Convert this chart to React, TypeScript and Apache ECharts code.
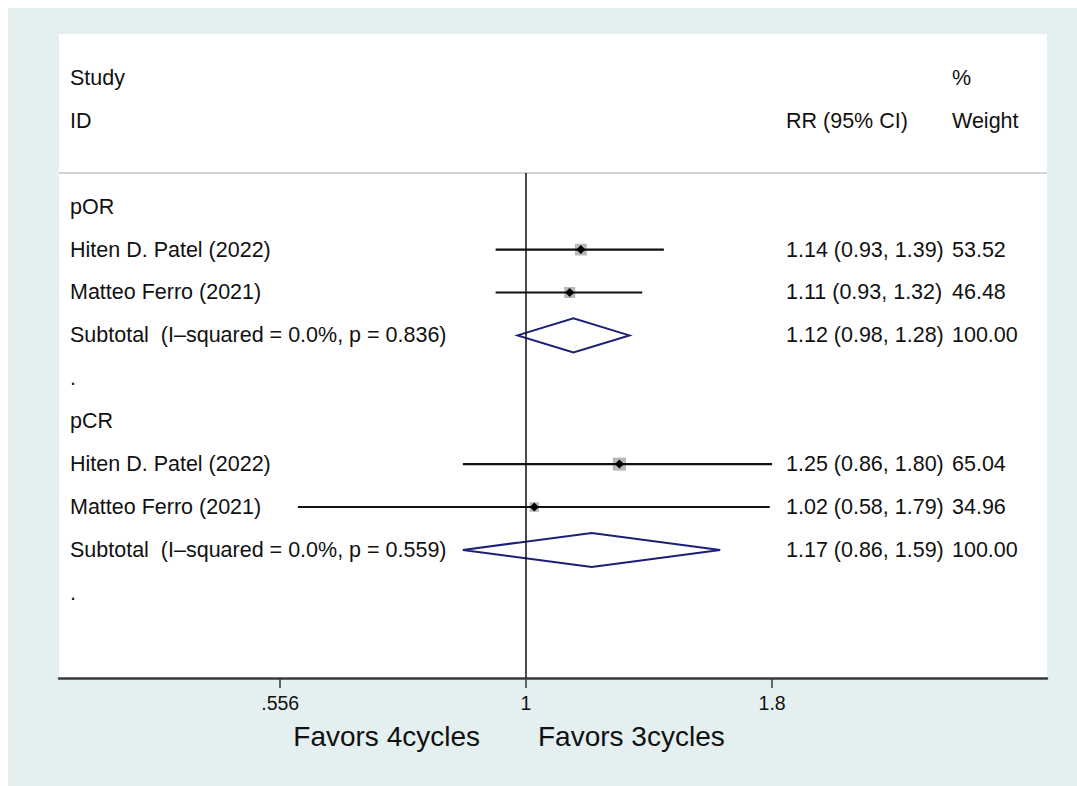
import React, { useEffect, useRef } from "react";
import * as echarts from "echarts";

// ---- data ----
const groups = ["pOR", "pCR"];
const studyNames = ["Hiten D. Patel (2022)", "Matteo Ferro (2021)", "Hiten D. Patel (2022)", "Matteo Ferro (2021)"];
const studyGroup = [0, 0, 1, 1];
const studyRR = [1.14, 1.11, 1.25, 1.02];
const studyLo = [0.93, 0.93, 0.86, 0.58];
const studyHi = [1.39, 1.32, 1.8, 1.79];
const studyWeight = [53.52, 46.48, 65.04, 34.96];
const subtotalLabels = ["Subtotal  (I\u2013squared = 0.0%, p = 0.836)", "Subtotal  (I\u2013squared = 0.0%, p = 0.559)"];
const subRR = [1.12, 1.17];
const subLo = [0.98, 0.86];
const subHi = [1.28, 1.59];
const subWeight = [100.0, 100.0];
const xTickValues = [0.556, 1, 1.8];
const xTickLabels = [".556", "1", "1.8"];
const headerLeft = ["Study", "ID"];
const headerRR = ["", "RR (95% CI)"];
const headerWeight = ["%", "Weight"];
const favorsLeft = "Favors 4cycles";
const favorsRight = "Favors 3cycles";

const FONT = "'Liberation Sans', Arial, Helvetica, sans-serif";
const BG = "#e4eff0";
const fmtCI = (r: number, l: number, h: number) => `${r.toFixed(2)} (${l.toFixed(2)}, ${h.toFixed(2)})`;

type Row = { row: number; label: string; rr: string; w: string };

function buildRows() {
  const text: Row[] = [];
  const studies: number[][] = [];
  const pooled: number[][] = [];
  text.push({ row: 0, label: headerLeft[0], rr: headerRR[0], w: headerWeight[0] });
  text.push({ row: 1, label: headerLeft[1], rr: headerRR[1], w: headerWeight[1] });
  let r = 3;
  groups.forEach((g, gi) => {
    text.push({ row: r, label: g, rr: "", w: "" });
    r++;
    studyNames.forEach((name, i) => {
      if (studyGroup[i] !== gi) return;
      text.push({ row: r, label: name, rr: fmtCI(studyRR[i], studyLo[i], studyHi[i]), w: studyWeight[i].toFixed(2) });
      studies.push([Math.log(studyRR[i]), r, Math.log(studyLo[i]), Math.log(studyHi[i]), studyWeight[i]]);
      r++;
    });
    text.push({ row: r, label: subtotalLabels[gi], rr: fmtCI(subRR[gi], subLo[gi], subHi[gi]), w: subWeight[gi].toFixed(2) });
    pooled.push([Math.log(subRR[gi]), r, Math.log(subLo[gi]), Math.log(subHi[gi])]);
    r++;
    text.push({ row: r, label: ".", rr: "", w: "" });
    r++;
  });
  return { text, studies, pooled };
}

export default function App() {
  const ref = useRef<HTMLDivElement>(null);
  useEffect(() => {
    document.documentElement.style.overflow = "hidden";
    document.body.style.overflow = "hidden";
    if (!ref.current) return;
    const chart = echarts.init(ref.current, undefined, { renderer: "svg" });
    const { text, studies, pooled } = buildRows();
    const xMin = -1.1153;
    const xMax = 1.2443;
    const yMin = -1.0256;
    const yMax = 13.986;
    const sepRow = 2.2145;
    const maxW = Math.max(...studyWeight);
    const tickLn = xTickValues.map((v) => Math.log(v));

    chart.setOption({
      animation: false,
      backgroundColor: BG,
      grid: { left: 51, top: 26, width: 988, height: 644, show: true, backgroundColor: "#ffffff", borderWidth: 0 },
      xAxis: {
        type: "value",
        min: xMin,
        max: xMax,
        axisLine: { show: true, onZero: false, lineStyle: { color: "#3a3a3a", width: 2.5 } },
        axisTick: { show: true, customValues: tickLn, length: 10, lineStyle: { color: "#3a3a3a", width: 1.5 } },
        axisLabel: {
          show: true,
          customValues: tickLn,
          margin: 15,
          fontSize: 19.5,
          fontFamily: FONT,
          color: "#111111",
          formatter: (v: number) => {
            let best = 0;
            tickLn.forEach((t, i) => {
              if (Math.abs(t - v) < Math.abs(tickLn[best] - v)) best = i;
            });
            return xTickLabels[best];
          },
        },
        splitLine: { show: false },
      },
      yAxis: { type: "value", inverse: true, min: yMin, max: yMax, show: false },
      graphic: [
        {
          type: "text",
          x: 472,
          y: 728,
          style: { text: favorsLeft, fontSize: 28, fontFamily: FONT, fill: "#111111", align: "right", textAlign: "right", verticalAlign: "middle", textVerticalAlign: "middle" },
        },
        {
          type: "text",
          x: 530,
          y: 728,
          style: { text: favorsRight, fontSize: 28, fontFamily: FONT, fill: "#111111", align: "left", textAlign: "left", verticalAlign: "middle", textVerticalAlign: "middle" },
        },
      ],
      series: [
        {
          type: "line",
          data: [[xMin, sepRow], [xMax, sepRow]],
          symbol: "none",
          lineStyle: { color: "#c4c4c4", width: 1.5 },
          silent: true,
        },
        {
          type: "line",
          data: [[0, sepRow], [0, yMax]],
          symbol: "none",
          lineStyle: { color: "#111111", width: 1.5 },
          silent: true,
        },
        {
          type: "custom",
          data: studies,
          encode: { x: [0, 2, 3], y: 1 },
          renderItem: (params: any, api: any) => {
            const c = api.coord([api.value(0), api.value(1)]);
            const l = api.coord([api.value(2), api.value(1)]);
            const h = api.coord([api.value(3), api.value(1)]);
            const s = 13 * Math.sqrt(api.value(4) / maxW);
            const m = 4.5;
            return {
              type: "group",
              children: [
                { type: "rect", shape: { x: c[0] - s / 2, y: c[1] - s / 2, width: s, height: s }, style: { fill: "#b8b8b8" } },
                { type: "line", shape: { x1: l[0], y1: l[1], x2: h[0], y2: h[1] }, style: { stroke: "#111111", lineWidth: 2.2 } },
                {
                  type: "polygon",
                  shape: { points: [[c[0], c[1] - m], [c[0] + m, c[1]], [c[0], c[1] + m], [c[0] - m, c[1]]] },
                  style: { fill: "#000000" },
                },
              ],
            };
          },
          silent: true,
        },
        {
          type: "custom",
          data: pooled,
          encode: { x: [0, 2, 3], y: 1 },
          renderItem: (params: any, api: any) => {
            const c = api.coord([api.value(0), api.value(1)]);
            const l = api.coord([api.value(2), api.value(1)]);
            const h = api.coord([api.value(3), api.value(1)]);
            const hh = 17;
            return {
              type: "polygon",
              shape: { points: [[l[0], c[1]], [c[0], c[1] - hh], [h[0], c[1]], [c[0], c[1] + hh]] },
              style: { fill: "none", stroke: "#1c1f78", lineWidth: 2 },
            };
          },
          silent: true,
        },
        {
          type: "custom",
          data: text.map((t) => [0, t.row]),
          encode: { x: 0, y: 1 },
          clip: false,
          renderItem: (params: any, api: any) => {
            const t = text[params.dataIndex];
            const p = api.coord([0, api.value(1)]);
            const x0 = params.coordSys.x;
            const st = { fontSize: 21.5, fontFamily: FONT, fill: "#111111", verticalAlign: "middle", align: "left" };
            const children: any[] = [
              { type: "text", x: x0 + 11, y: p[1], style: { ...st, text: t.label } },
            ];
            if (t.rr) children.push({ type: "text", x: x0 + 727, y: p[1], style: { ...st, text: t.rr } });
            if (t.w) children.push({ type: "text", x: x0 + 893, y: p[1], style: { ...st, text: t.w } });
            return { type: "group", children };
          },
          silent: true,
        },
      ],
    });
    return () => chart.dispose();
  }, []);
  return (
    <div
      ref={ref}
      style={{ position: "fixed", left: 8, top: 8, width: 1100, height: 800, background: BG }}
    />
  );
}
